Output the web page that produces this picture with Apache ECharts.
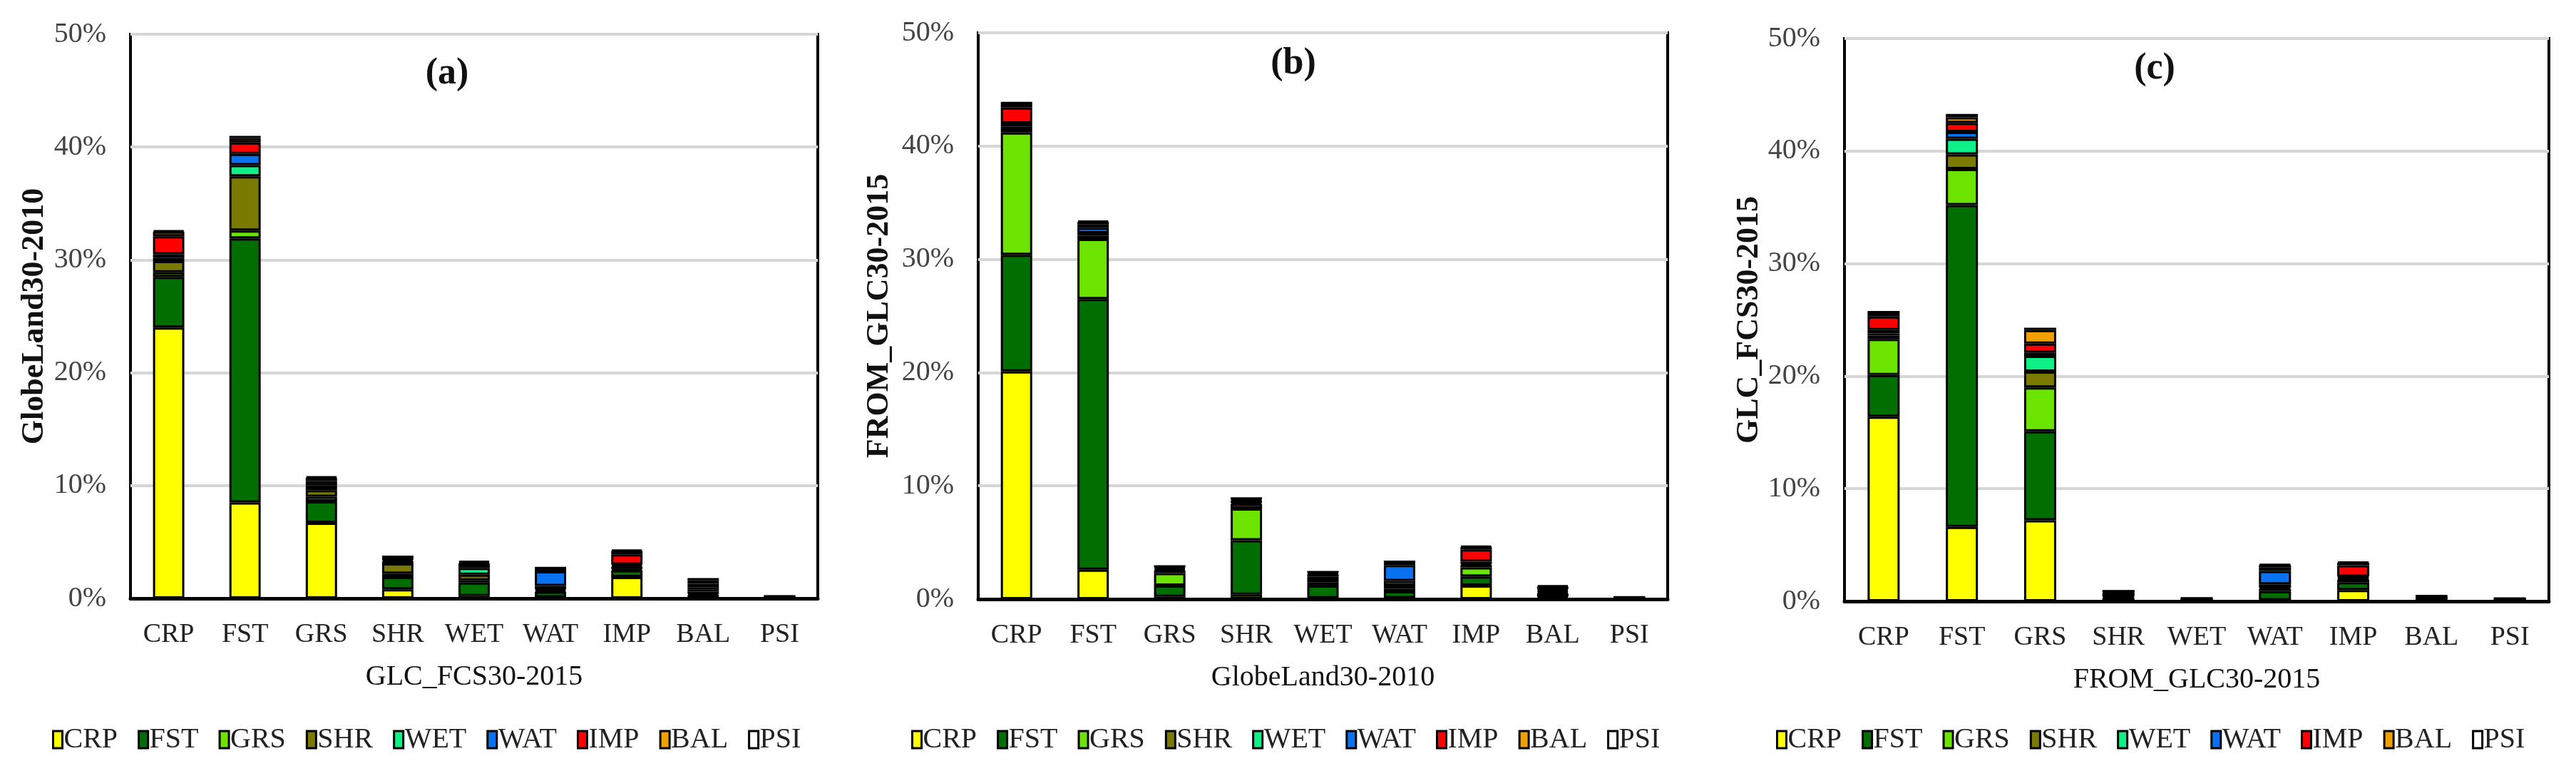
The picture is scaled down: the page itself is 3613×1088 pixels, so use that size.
<!DOCTYPE html>
<html>
<head>
<meta charset="utf-8">
<script src="https://cdn.jsdelivr.net/npm/echarts@6/dist/echarts.min.js"></script>
<style>
html,body{margin:0;padding:0;background:#fff;}
#main{width:3613px;height:1088px;}
</style>
</head>
<body>
<div id="main"></div>
<script>
// ---------------- data ----------------
const categories = ['CRP','FST','GRS','SHR','WET','WAT','IMP','BAL','PSI'];
const yTicks = [0, 10, 20, 30, 40, 50];
const panelTitles = ['(a)', '(b)', '(c)'];
const xNames = ['GLC_FCS30-2015', 'GlobeLand30-2010', 'FROM_GLC30-2015'];
const yNames = ['GlobeLand30-2010', 'FROM_GLC30-2015', 'GLC_FCS30-2015'];

// Panel (a): each array = one stacked class across the 9 x categories (%)
const a_CRP = [24.0, 8.5, 6.7, 0.8, 0.2, 0.1, 1.9, 0.1, 0.03];
const a_FST = [4.5, 23.4, 1.9, 1.1, 1.2, 0.5, 0.6, 0.2, 0.03];
const a_GRS = [0.4, 0.7, 0.4, 0.3, 0.2, 0.1, 0.1, 0.1, 0.02];
const a_SHR = [1.0, 4.8, 0.6, 0.9, 0.5, 0.1, 0.2, 0.2, 0.02];
const a_WET = [0.3, 1.0, 0.2, 0.2, 0.6, 0.3, 0.1, 0.2, 0.02];
const a_WAT = [0.3, 1.0, 0.2, 0.1, 0.2, 1.3, 0.1, 0.2, 0.02];
const a_IMP = [1.6, 1.0, 0.4, 0.2, 0.2, 0.2, 0.9, 0.3, 0.02];
const a_BAL = [0.4, 0.4, 0.3, 0.1, 0.1, 0.1, 0.3, 0.3, 0.02];
const a_PSI = [0.1, 0.2, 0.1, 0.0, 0.1, 0.0, 0.1, 0.2, 0.03];

// Panel (b)
const b_CRP = [20.1, 2.6, 0.2, 0.4, 0.1, 0.1, 1.2, 0.1, 0.03];
const b_FST = [10.3, 23.9, 1.0, 4.8, 1.1, 0.6, 0.8, 0.1, 0.02];
const b_GRS = [10.8, 5.3, 1.1, 2.8, 0.3, 0.2, 0.8, 0.3, 0.02];
const b_SHR = [0.3, 0.3, 0.2, 0.4, 0.2, 0.3, 0.2, 0.1, 0.02];
const b_WET = [0.2, 0.2, 0.1, 0.1, 0.3, 0.4, 0.1, 0.1, 0.02];
const b_WAT = [0.3, 0.5, 0.1, 0.2, 0.2, 1.4, 0.2, 0.1, 0.02];
const b_IMP = [1.4, 0.3, 0.1, 0.1, 0.1, 0.2, 1.1, 0.1, 0.02];
const b_BAL = [0.3, 0.2, 0.1, 0.1, 0.1, 0.1, 0.2, 0.2, 0.02];
const b_PSI = [0.2, 0.1, 0.0, 0.0, 0.0, 0.0, 0.1, 0.1, 0.02];

// Panel (c)
const c_CRP = [16.4, 6.6, 7.2, 0.1, 0.03, 0.1, 1.0, 0.05, 0.03];
const c_FST = [3.7, 28.6, 7.9, 0.2, 0.03, 0.8, 0.7, 0.1, 0.03];
const c_GRS = [3.2, 3.2, 3.9, 0.1, 0.03, 0.2, 0.2, 0.05, 0.03];
const c_SHR = [0.3, 1.3, 1.4, 0.3, 0.03, 0.1, 0.1, 0.05, 0.03];
const c_WET = [0.2, 1.4, 1.4, 0.05, 0.04, 0.3, 0.1, 0.05, 0.03];
const c_WAT = [0.3, 0.6, 0.3, 0.05, 0.03, 1.2, 0.1, 0.05, 0.03];
const c_IMP = [1.2, 0.8, 0.8, 0.05, 0.03, 0.3, 1.0, 0.05, 0.03];
const c_BAL = [0.3, 0.5, 1.2, 0.05, 0.03, 0.2, 0.2, 0.05, 0.03];
const c_PSI = [0.2, 0.3, 0.2, 0.0, 0.03, 0.1, 0.1, 0.05, 0.03];

const panels = [
  [a_CRP, a_FST, a_GRS, a_SHR, a_WET, a_WAT, a_IMP, a_BAL, a_PSI],
  [b_CRP, b_FST, b_GRS, b_SHR, b_WET, b_WAT, b_IMP, b_BAL, b_PSI],
  [c_CRP, c_FST, c_GRS, c_SHR, c_WET, c_WAT, c_IMP, c_BAL, c_PSI]
];

// ---------------- styles / layout ----------------
const classColors = ['#FFFF00', '#006E00', '#6CE400', '#7A7A00', '#10F088', '#0A72F0', '#FF0000', '#F0A000', '#FFFFFF'];
const FONT = 'Liberation Serif';
const gridBoxes = [
  {left: 183, width: 964, top: 48, bottom: 249},
  {left: 1372, width: 967, top: 46, bottom: 248},
  {left: 2587, width: 988, top: 54, bottom: 245}
];
const yNameGaps = [112, 116, 111];
const legendLefts = [68, 1273, 2486];
const titlePos = [[627, 104], [1814, 90], [3022, 97]];

const grids = [], xAxes = [], yAxes = [], series = [], legends = [], graphics = [];

gridBoxes.forEach((g, i) => {
  grids.push({left: g.left, width: g.width, top: g.top, bottom: g.bottom, show: true,
    borderColor: '#000', borderWidth: 4, backgroundColor: '#fff', containLabel: false});
  xAxes.push({type: 'category', gridIndex: i, data: categories,
    name: xNames[i], nameLocation: 'middle', nameGap: 90,
    nameTextStyle: {fontFamily: FONT, fontSize: 40, color: '#111'},
    axisLine: {show: true, lineStyle: {color: '#000', width: 5}},
    axisTick: {show: false},
    axisLabel: {interval: 0, hideOverlap: false, fontFamily: FONT, fontSize: 38, color: '#222', margin: 32}});
  yAxes.push({type: 'value', gridIndex: i, min: yTicks[0], max: yTicks[yTicks.length - 1], interval: 10,
    name: yNames[i], nameLocation: 'middle', nameGap: yNameGaps[i], nameRotate: 90,
    nameTextStyle: {fontFamily: FONT, fontSize: 44, fontWeight: 'bold', color: '#111'},
    axisLine: {show: false}, axisTick: {show: false},
    axisLabel: {fontFamily: FONT, fontSize: 40, color: '#444', margin: 34, formatter: '{value}%'},
    splitLine: {show: true, lineStyle: {color: '#d6d6d6', width: 4}}});
  panels[i].forEach((arr, k) => {
    series.push({type: 'bar', name: categories[k], xAxisIndex: i, yAxisIndex: i,
      stack: 'panel' + i, data: arr, barWidth: '41%',
      itemStyle: {color: classColors[k], borderColor: '#000', borderWidth: 3},
      emphasis: {disabled: true}});
  });
  legends.push({data: categories, left: legendLefts[i], top: 1012, orient: 'horizontal',
    icon: 'rect', itemWidth: 13, itemHeight: 24, itemGap: 28,
    itemStyle: {borderColor: '#000', borderWidth: 3},
    textStyle: {fontFamily: FONT, fontSize: 40, color: '#222', padding: [0, 0, 0, -3]},
    selectedMode: false});
  graphics.push({type: 'text', x: titlePos[i][0], y: titlePos[i][1],
    style: {text: panelTitles[i], fontFamily: FONT, fontSize: 52, fontWeight: 'bold',
      fill: '#111', textAlign: 'center', textVerticalAlign: 'middle'}});
});

const chart = echarts.init(document.getElementById('main'), null, {renderer: 'canvas'});
chart.setOption({
  animation: false,
  backgroundColor: '#fff',
  grid: grids, xAxis: xAxes, yAxis: yAxes, series: series,
  legend: legends, graphic: graphics
});
</script>
</body>
</html>
